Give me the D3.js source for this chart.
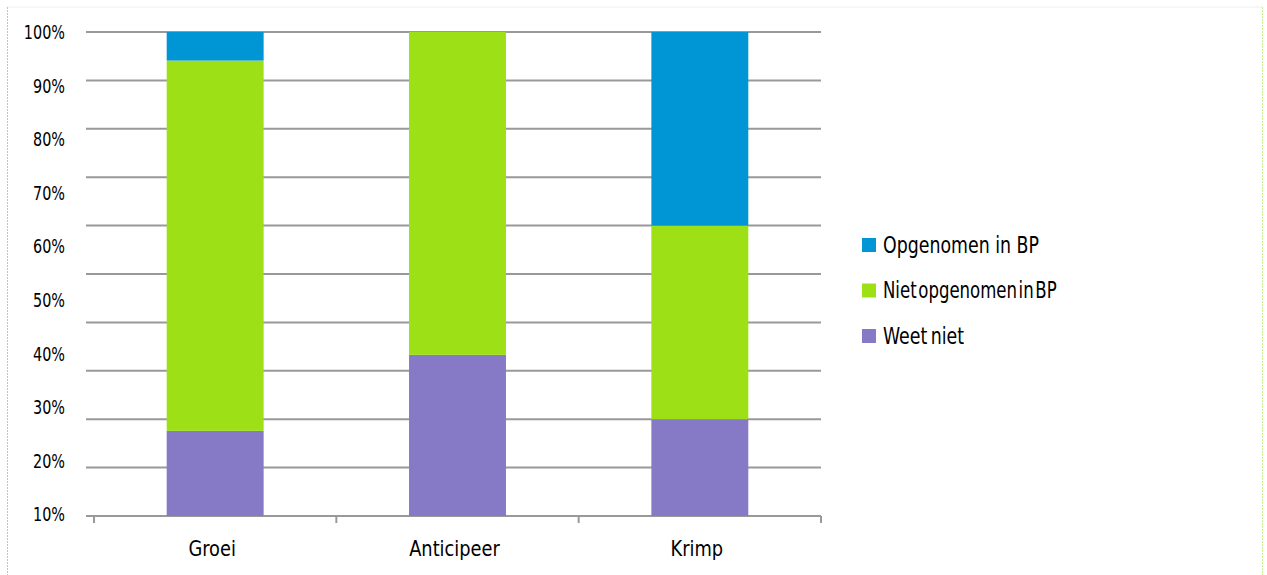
<!DOCTYPE html>
<html><head><meta charset="utf-8">
<script src="https://cdn.jsdelivr.net/npm/d3@7"></script>
<style>body{margin:0;background:#fff}svg{display:block}</style>
</head><body>
<svg id="c" width="1267" height="575"></svg>
<script>
const categories = ["Groei", "Anticipeer", "Krimp"];
const seriesNames = ["Weet niet", "Niet opgenomen in BP", "Opgenomen in BP"];
const weetNiet = [17.6, 33.3, 20];
const nietOpgenomen = [76.5, 66.7, 40];
const opgenomen = [5.9, 0, 40];
const tickLabels = ["100%", "90%", "80%", "70%", "60%", "50%", "40%", "30%", "20%", "10%"];
const gridValues = [0, 10, 20, 30, 40, 50, 60, 70, 80, 90, 100];
const legendLabels = ["Opgenomen in BP", "Niet\u200Aopgenomen\u200Ain\u200ABP", "Weet\u2009niet"];
const legendScale = [0.84, 0.8, 0.84];
const colors = ["#8679C5", "#9DE015", "#0096D6"];
const legendColors = ["#0096D6", "#9DE015", "#8679C5"];

const svg = d3.select("#c");
const font = "'DejaVu Sans Condensed','Liberation Sans Narrow',sans-serif";

// borders
svg.append("line").attr("x1",7).attr("x2",1262).attr("y1",7).attr("y2",7).attr("stroke","#eeeeee").attr("stroke-width",1);
svg.append("line").attr("x1",7.5).attr("x2",7.5).attr("y1",7).attr("y2",575).attr("stroke","#a9c8f0").attr("stroke-width",1).attr("stroke-dasharray","2,1");
svg.append("line").attr("x1",1262.5).attr("x2",1262.5).attr("y1",7).attr("y2",575).attr("stroke","#c8ee90").attr("stroke-width",1).attr("stroke-dasharray","2,1");

const y = d3.scaleLinear().domain([0, 100]).range([516, 32]);
const x = d3.scaleBand().domain(categories).range([94, 821]).paddingInner(0.6).paddingOuter(0.3);
const xTicks = d3.scaleBand().domain(categories).range([94, 821]);
const yLab = d3.scalePoint().domain(tickLabels).range([32, 514]);

// gridlines
svg.append("g").selectAll("line").data(gridValues).join("line")
  .attr("x1", 86).attr("x2", 821)
  .attr("y1", d => y(d)).attr("y2", d => y(d))
  .attr("stroke", "#999").attr("stroke-width", 2);

// category tick marks
const tickPos = categories.map(c => xTicks(c)).concat([xTicks.range()[1]]);
svg.append("g").selectAll("line").data(tickPos).join("line")
  .attr("x1", d => d).attr("x2", d => d)
  .attr("y1", 516).attr("y2", 523)
  .attr("stroke", "#999").attr("stroke-width", 2);

// stacks
const rows = categories.map((c, i) => ({cat: c, a: weetNiet[i], b: nietOpgenomen[i], c: opgenomen[i]}));
const stack = d3.stack().keys(["a", "b", "c"])(rows);
svg.append("g").selectAll("g").data(stack).join("g")
  .attr("fill", (d, i) => colors[i])
  .selectAll("rect").data(d => d).join("rect")
  .attr("x", d => x(d.data.cat))
  .attr("width", x.bandwidth())
  .attr("y", d => y(d[1]))
  .attr("height", d => y(d[0]) - y(d[1]));

// y labels
svg.append("g").selectAll("text").data(tickLabels).join("text")
  .attr("transform", d => `translate(65, ${yLab(d)}) scale(0.8,1)`)
  .attr("text-anchor", "end").attr("dominant-baseline", "central")
  .attr("font-family", font).attr("font-size", 20).attr("fill", "#000")
  .text(d => d);

// x labels
svg.append("g").selectAll("text").data(categories).join("text")
  .attr("transform", d => `translate(${x(d) + x.bandwidth() / 2 - 3}, 549) scale(0.9,1)`)
  .attr("text-anchor", "middle").attr("dominant-baseline", "central")
  .attr("font-family", font).attr("font-size", 22).attr("fill", "#000")
  .text(d => d);

// legend
const lg = svg.append("g").selectAll("g").data(legendLabels).join("g")
  .attr("transform", (d, i) => `translate(862, ${245 + i * 45.5})`);
lg.append("rect").attr("x", 0).attr("y", -7).attr("width", 14).attr("height", 14)
  .attr("fill", (d, i) => legendColors[i]);
lg.append("text").attr("transform", (d, i) => `translate(21,0) scale(${legendScale[i]},1)`).attr("dominant-baseline", "central")
  .attr("font-family", font).attr("font-size", 23).attr("fill", "#000")
  .text(d => d);
</script>
</body></html>
